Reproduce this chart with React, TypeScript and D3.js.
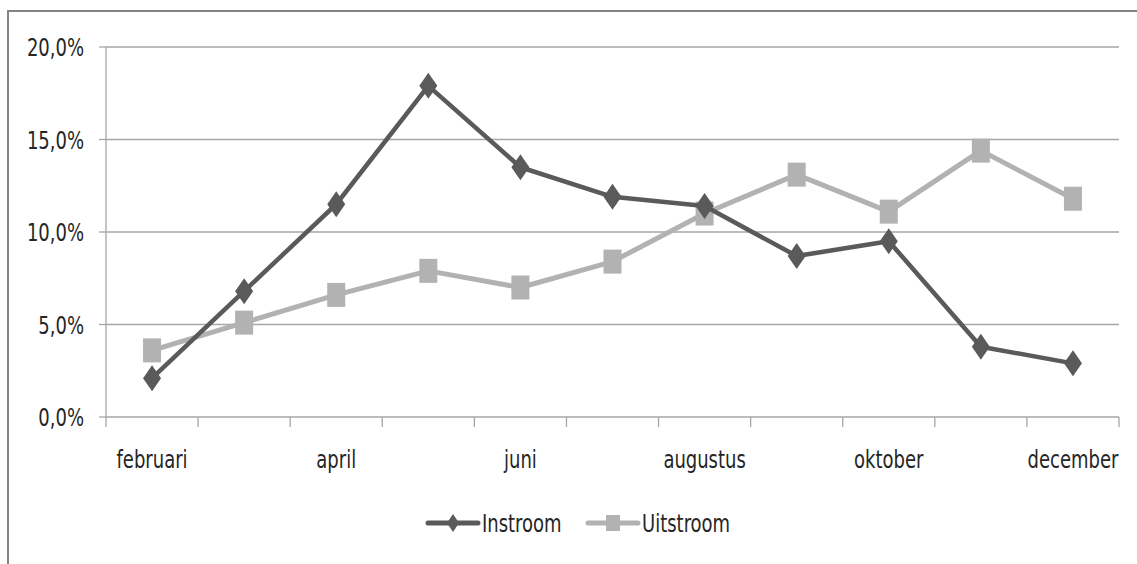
import React from 'react';
import * as d3 from 'd3';

const maanden = [
  'februari', 'maart', 'april', 'mei', 'juni', 'juli',
  'augustus', 'september', 'oktober', 'november', 'december',
];
const instroom = [2.1, 6.8, 11.5, 17.9, 13.5, 11.9, 11.4, 8.7, 9.5, 3.8, 2.9];
const uitstroom = [3.6, 5.1, 6.6, 7.9, 7.0, 8.4, 11.0, 13.1, 11.1, 14.4, 11.8];
const yTicks = [0, 5, 10, 15, 20];

const W = 1137;
const H = 564;
const FONT = '"DejaVu Sans Condensed", "Liberation Sans Narrow", sans-serif';
const DARK = '#5a5a5a';
const LIGHT = '#b2b2b2';
const TXT = '#262626';

export default function App() {
  const ref = React.useRef<SVGSVGElement>(null);

  React.useEffect(() => {
    const svg = d3.select(ref.current);
    svg.selectAll('*').remove();

    // plot area
    const left = 106, right = 1119, top = 47, bottom = 417;
    const x = d3.scaleBand<string>().domain(maanden).range([left, right]).padding(0);
    const y = d3.scaleLinear().domain([0, 20]).range([bottom, top]);
    const fmt = (d: number) => d.toFixed(1).replace('.', ',') + '%';

    // de tekst in het origineel is wat uitgerekt in de hoogte
    const label = (g: any, tx: number, ty: number, s: string, anchor = 'start') =>
      g.append('text')
        .attr('transform', `translate(${tx},${ty}) scale(1,1.25)`)
        .attr('text-anchor', anchor)
        .attr('font-family', FONT).attr('font-size', 20).attr('fill', TXT)
        .text(s);

    // outer frame
    svg.append('rect')
      .attr('x', 8).attr('y', 11)
      .attr('width', W + 20).attr('height', H + 20)
      .attr('fill', 'none').attr('stroke', '#858585').attr('stroke-width', 2);

    // gridlines
    svg.append('g')
      .selectAll('line')
      .data(yTicks.filter((d) => d > 0))
      .enter()
      .append('line')
      .attr('x1', left).attr('x2', right)
      .attr('y1', (d) => y(d)).attr('y2', (d) => y(d))
      .attr('stroke', '#a6a6a6').attr('stroke-width', 1.3);

    // y axis
    svg.append('line')
      .attr('x1', left).attr('x2', left).attr('y1', top).attr('y2', bottom)
      .attr('stroke', '#a6a6a6').attr('stroke-width', 1.3);
    svg.append('g')
      .selectAll('line')
      .data(yTicks)
      .enter()
      .append('line')
      .attr('x1', left - 7).attr('x2', left)
      .attr('y1', (d) => y(d)).attr('y2', (d) => y(d))
      .attr('stroke', '#a6a6a6').attr('stroke-width', 1.3);
    const yLab = svg.append('g');
    yTicks.forEach((d) => label(yLab, 84, y(d) + 9, fmt(d), 'end'));

    // x axis
    svg.append('line')
      .attr('x1', left).attr('x2', right).attr('y1', bottom).attr('y2', bottom)
      .attr('stroke', '#a6a6a6').attr('stroke-width', 1.3);
    const edges = maanden.map((m) => x(m)!).concat([right]);
    svg.append('g')
      .selectAll('line')
      .data(edges)
      .enter()
      .append('line')
      .attr('x1', (d) => d).attr('x2', (d) => d)
      .attr('y1', bottom).attr('y2', bottom + 10)
      .attr('stroke', '#a6a6a6').attr('stroke-width', 1.3);
    const xLab = svg.append('g');
    maanden.forEach((m, i) => {
      if (i % 2 === 0) label(xLab, x(m)! + x.bandwidth() / 2, 468, m, 'middle');
    });

    const cx = (i: number) => x(maanden[i])! + x.bandwidth() / 2;
    const line = d3.line<number>().x((_, i) => cx(i)).y((d) => y(d));

    // Uitstroom
    svg.append('path')
      .datum(uitstroom)
      .attr('d', line)
      .attr('fill', 'none').attr('stroke', LIGHT).attr('stroke-width', 5)
      .attr('stroke-linejoin', 'round');
    svg.append('g')
      .selectAll('rect')
      .data(uitstroom)
      .enter()
      .append('rect')
      .attr('x', (_, i) => cx(i) - 9).attr('y', (d) => y(d) - 12)
      .attr('width', 18).attr('height', 24)
      .attr('fill', LIGHT);

    // Instroom
    svg.append('path')
      .datum(instroom)
      .attr('d', line)
      .attr('fill', 'none').attr('stroke', DARK).attr('stroke-width', 4.5)
      .attr('stroke-linejoin', 'round');
    const diamond = 'M0,-13L9,0L0,13L-9,0Z';
    svg.append('g')
      .selectAll('path')
      .data(instroom)
      .enter()
      .append('path')
      .attr('d', diamond)
      .attr('transform', (d, i) => `translate(${cx(i)},${y(d)})`)
      .attr('fill', DARK);

    // legend
    const lg = svg.append('g');
    const items = [
      { name: 'Instroom', color: DARK, x0: 428, sq: false },
      { name: 'Uitstroom', color: LIGHT, x0: 588, sq: true },
    ];
    items.forEach((it) => {
      lg.append('line')
        .attr('x1', it.x0).attr('x2', it.x0 + 50).attr('y1', 523).attr('y2', 523)
        .attr('stroke', it.color).attr('stroke-width', 5).attr('stroke-linecap', 'round');
      if (it.sq) {
        lg.append('rect')
          .attr('x', it.x0 + 18).attr('y', 515).attr('width', 14).attr('height', 16)
          .attr('fill', it.color);
      } else {
        lg.append('path')
          .attr('d', 'M0,-9L6,0L0,9L-6,0Z')
          .attr('transform', `translate(${it.x0 + 25},523)`)
          .attr('fill', it.color);
      }
      label(lg, it.x0 + 54, 532, it.name);
    });
  }, []);

  return (
    <svg
      ref={ref}
      width={W}
      height={H}
      style={{ position: 'absolute', left: 0, top: 0, background: '#fff' }}
    />
  );
}
